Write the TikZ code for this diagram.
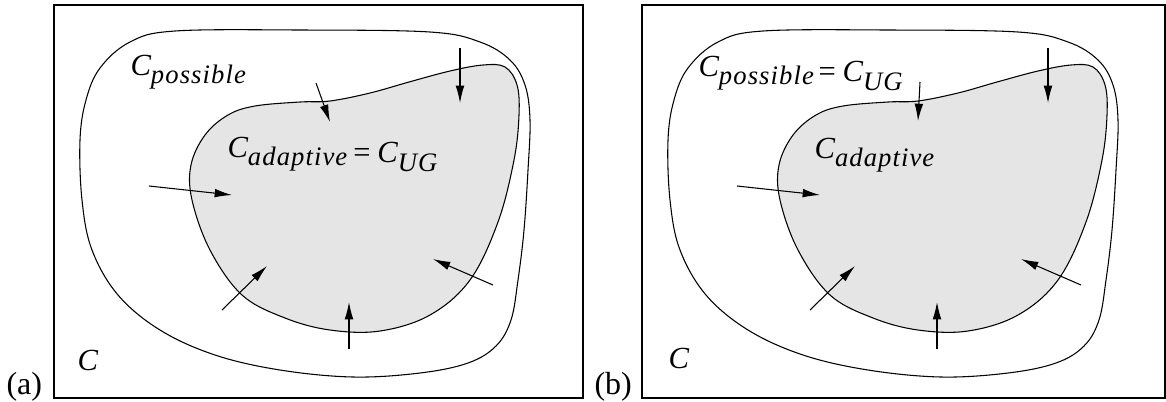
\documentclass[tikz,border=0pt]{standalone}
\usepackage{fontspec}
\setmainfont{Liberation Serif}
\usetikzlibrary{arrows.meta}
\definecolor{shade}{RGB}{229,229,229}
\newcommand{\sbs}[1]{\raisebox{-6.5pt}{\fontsize{20}{23}\selectfont\addfontfeature{LetterSpace=4}#1}}
\newcommand{\low}[1]{\raisebox{-4pt}{#1}}
\begin{document}
\begin{tikzpicture}[x=0.75pt,y=-0.75pt, line width=0.8pt,
 lbl/.style={anchor=base west, inner sep=0, font=\fontsize{23}{27}\selectfont\itshape},
 tag/.style={anchor=base west, inner sep=0, font=\fontsize{24}{28}\selectfont},
 frame/.style={draw, line width=0.9pt},
 push/.style={-{Latex[length=13pt,width=6.5pt]}, line width=0.8pt}]
\useasboundingbox (0,0) rectangle (1166,401);
% frames
\draw[frame] (54,5) rectangle (583,398);
\draw[frame] (642,5) rectangle (1165,398);
\node[tag] (ta) at (6,394) {(a)};
\node[tag] (tb) at (594,394) {(b)};
\foreach \sx/\p in {0/a,588/b}{
\begin{scope}[shift={(\sx,0)}]
 \draw plot[smooth cycle, tension=0.6] coordinates {
  (100,68) (130,42) (175,31) (300,30) (430,32) (480,42) (510,60) (525,85)
  (530,120) (528,170) (524,230) (518,280) (511,320) (496,346) (468,363)
  (420,373) (353,377) (280,370) (215,355) (160,330) (118,295) (92,250)
  (82,200) (80,140) (86,100)};
 \draw[fill=shade] plot[smooth cycle, tension=0.6] coordinates {
  (255,106) (300,102) (330,101) (370,93) (409,82) (450,71) (483,65) (505,67)
  (517,85) (519,115) (514,160) (498,222) (470,280) (430,315) (380,331)
  (330,330) (285,318) (242,295) (210,250) (192,200) (191,165) (205,135) (228,115)};
 \coordinate (\p2s) at (460,48);  \coordinate (\p2e) at (460,103);
 \coordinate (\p3s) at (149,186); \coordinate (\p3e) at (232,195);
 \coordinate (\p4s) at (222,310); \coordinate (\p4e) at (267,266);
 \coordinate (\p5s) at (349,349); \coordinate (\p5e) at (349,302);
 \coordinate (\p6s) at (493,285); \coordinate (\p6e) at (433,259);
 \draw[push] (\p2s) -- (\p2e);
 \draw[push] (\p3s) -- (\p3e);
 \draw[push] (\p4s) -- (\p4e);
 \draw[push] (\p5s) -- (\p5e);
 \draw[push] (\p6s) -- (\p6e);
\end{scope}}
\coordinate (a1s) at (316,83); \coordinate (a1e) at (330,122);
\coordinate (b1s) at (920,82); \coordinate (b1e) at (918,121);
\draw[push] (a1s) -- (a1e);
\draw[push] (b1s) -- (b1e);
% labels
\node[lbl] (pa) at (130,75) {C\sbs{possible}};
\node[lbl] (ada) at (227,157) {C\sbs{adaptive}\low{\hspace{3pt}=\hspace{4pt}C\sbs{UG}}};
\node[lbl] (ca) at (77,370) {C};
\node[lbl] (pb) at (698,76) {C\sbs{possible}\low{\hspace{2pt}=\hspace{4pt}C\sbs{UG}}};
\node[lbl] (adb) at (814,158) {C\sbs{adaptive}};
\node[lbl] (cb) at (668,368) {C};
\end{tikzpicture}
\end{document}
